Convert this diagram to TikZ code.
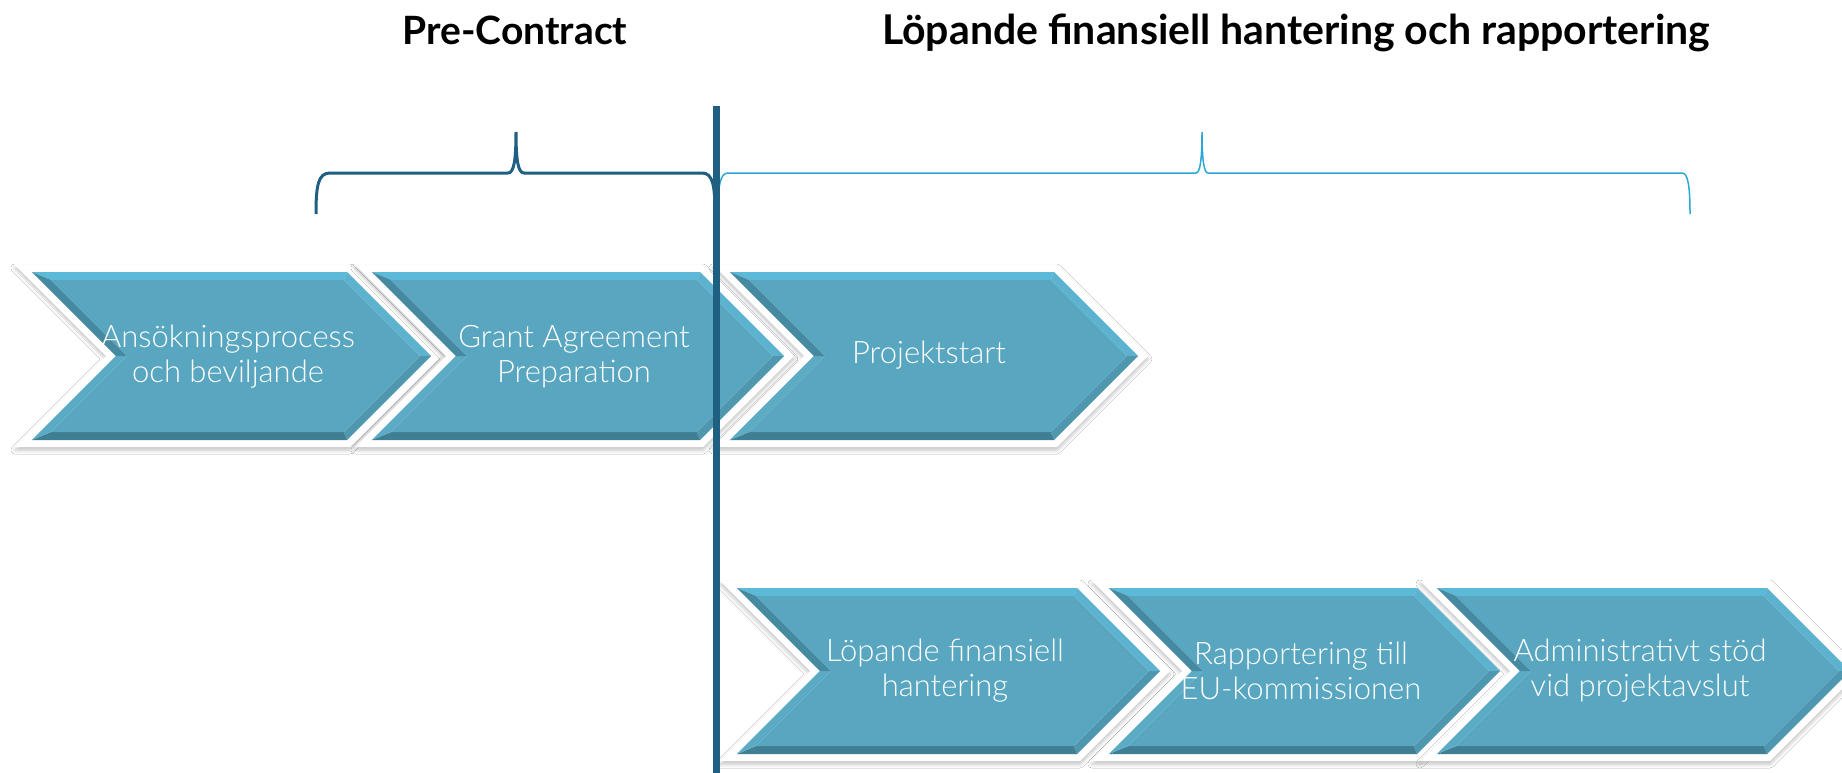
\documentclass[tikz,border=0pt]{standalone}
\usepackage{fontspec}
\setmainfont{Lato}
\newfontfamily\lightfont{Lato Light}
\usetikzlibrary{shadows.blur}
\definecolor{linedark}{HTML}{1F5F82}
\definecolor{linelight}{HTML}{2AA7D6}
\definecolor{cbase}{HTML}{58A6BF}
\definecolor{ctop}{HTML}{5DB9D8}
\definecolor{cur}{HTML}{5DB3CF}
\definecolor{clr}{HTML}{4F97AE}
\definecolor{cbot}{HTML}{407E93}
\definecolor{cll}{HTML}{5BABC4}
\definecolor{cul}{HTML}{468AA1}
\newcommand\chevpts[1]{%
 \pgfmathsetmacro\cS{#1*1.41421}%
 \pgfmathsetmacro\pTLx{\cL+\cS+#1}\pgfmathsetmacro\pTy{\cT+#1}%
 \pgfmathsetmacro\pTRx{\cR-\cS+#1}%
 \pgfmathsetmacro\pTipx{\cR+\cD-\cS}%
 \pgfmathsetmacro\pNx{\cL+\cD+\cS}%
 \pgfmathsetmacro\pBy{\cB-#1}%
}
\newcommand\drawchev[4]{%
 \pgfmathsetmacro\cL{#1}\pgfmathsetmacro\cR{#2}%
 \pgfmathsetmacro\cT{#3}\pgfmathsetmacro\cB{#4}%
 \pgfmathsetmacro\cD{(\cB-\cT)/2}\pgfmathsetmacro\cM{(\cB+\cT)/2}%
 \path[fill=white, blur shadow={shadow xshift=0pt, shadow yshift=-3pt, shadow blur radius=4pt, shadow opacity=25}]
   (\cL,\cT) -- (\cR,\cT) -- (\cR+\cD,\cM) -- (\cR,\cB) -- (\cL,\cB) -- (\cL+\cD,\cM) -- cycle;
 \chevpts{7}%
 \let\aTLx\pTLx \let\aTy\pTy \let\aTRx\pTRx \let\aTipx\pTipx \let\aNx\pNx \let\aBy\pBy
 \chevpts{15}%
 \fill[ctop] (\aTLx,\aTy) -- (\aTRx,\aTy) -- (\pTRx,\pTy) -- (\pTLx,\pTy) -- cycle;
 \fill[cur] (\aTRx,\aTy) -- (\aTipx,\cM) -- (\pTipx,\cM) -- (\pTRx,\pTy) -- cycle;
 \fill[clr] (\aTipx,\cM) -- (\aTRx,\aBy) -- (\pTRx,\pBy) -- (\pTipx,\cM) -- cycle;
 \fill[cbot] (\aTRx,\aBy) -- (\aTLx,\aBy) -- (\pTLx,\pBy) -- (\pTRx,\pBy) -- cycle;
 \fill[cll] (\aTLx,\aBy) -- (\aNx,\cM) -- (\pNx,\cM) -- (\pTLx,\pBy) -- cycle;
 \fill[cul] (\aNx,\cM) -- (\aTLx,\aTy) -- (\pTLx,\pTy) -- (\pNx,\cM) -- cycle;
 \fill[cbase] (\pTLx,\pTy) -- (\pTRx,\pTy) -- (\pTipx,\cM) -- (\pTRx,\pBy) -- (\pTLx,\pBy) -- (\pNx,\cM) -- cycle;
}
\tikzset{
  chevtext/.style={text=white, align=center, font=\lightfont\fontsize{31}{35}\selectfont, inner sep=0pt},
  title/.style={font=\bfseries, text=black, anchor=base, inner sep=0pt},
  bracedark/.style={draw=linedark, line width=3pt},
  bracelight/.style={draw=linelight, line width=1.5pt},
}
\begin{document}
\begin{tikzpicture}[x=1pt,y=-1pt]
\useasboundingbox (0,0) rectangle (1842,773);
\fill[white] (0,0) rectangle (1842,773);
% titles
\node[title, font=\bfseries\fontsize{39}{44}\selectfont] (t1) at (515,45) {Pre-Contract};
\node[title, font=\bfseries\fontsize{41}{46}\selectfont] (t2) at (1296,45) {Löpande finansiell hantering och rapportering};
% braces
\draw[bracedark] (316,214) .. controls (316,186) and (318,173) .. (330,173) -- (508,173)
  .. controls (514,173) and (516,160) .. (516,132)
  .. controls (516,160) and (518,173) .. (524,173) -- (702,173)
  .. controls (713,173) and (715,186) .. (715,214);
\draw[bracelight] (718,214) .. controls (718,186) and (720,173) .. (728,173) -- (1196,173)
  .. controls (1200,173) and (1202,160) .. (1202,132)
  .. controls (1202,160) and (1204,173) .. (1208,173) -- (1682,173)
  .. controls (1688,173) and (1690,186) .. (1690,214);
% top row
\drawchev{15}{350}{265}{447}
\drawchev{355}{703}{265}{447}
\drawchev{713}{1057}{265}{447}
% bottom row
\drawchev{720}{1080}{581}{761}
\drawchev{1092}{1420}{581}{761}
\drawchev{1420}{1770}{581}{761}
% vertical divider
\coordinate (vtop) at (716.5,106);
\coordinate (vbot) at (716.5,773);
\draw[linedark, line width=7pt] (vtop) -- (vbot);
% texts
\node[chevtext] (c1) at (228,357) {Ansökningsprocess\\och beviljande};
\node[chevtext] (c2) at (574,357) {Grant Agreement\\Preparation};
\node[chevtext] (c3) at (929,355) {Projektstart};
\node[chevtext] (c4) at (945,671) {Löpande finansiell\\hantering};
\node[chevtext] (c5) at (1301,671) {Rapportering till\\EU-kommissionen};
\node[chevtext] (c6) at (1640,671) {Administrativt stöd\\vid projektavslut};
\end{tikzpicture}
\end{document}
